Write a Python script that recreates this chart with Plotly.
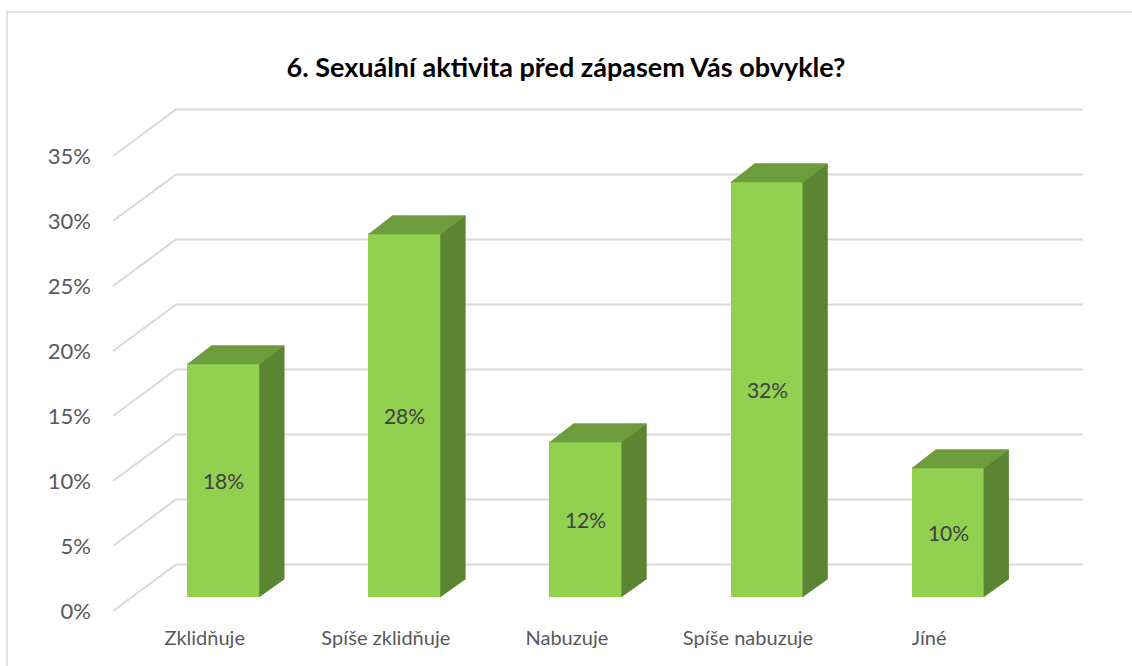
import plotly.graph_objects as go

# chart data
CATEGORIES = ["Zklidňuje", "Spíše zklidňuje", "Nabuzuje", "Spíše nabuzuje", "Jíné"]
VALUES = [18, 28, 12, 32, 10]
Y_TICKS = [0, 5, 10, 15, 20, 25, 30, 35]
TITLE = "6. Sexuální aktivita před zápasem Vás obvykle?"

# geometry (pixel anchors of the 3D look)
W, H = 1132, 666
PX_CAT = 181.1          # pixels per category step
PX_PCT = 13.0           # pixels per percent
X0_PIX = 223.7          # pixel of first bar centre
Y0_PIX = 611.0          # pixel of 0% on the front plane
PLOT_L, PLOT_R, PLOT_T, PLOT_B = 100, 1090, 95, 622

WALL_DX = 63 / PX_CAT   # depth of the floor / side wall
WALL_DY = 46.5 / PX_PCT
WALL_FRONT_X = (113 - X0_PIX) / PX_CAT
WALL_RIGHT_X = (1083 - X0_PIX) / PX_CAT

BAR_W = 73 / PX_CAT
BAR_BASE = 13.7 / PX_PCT
BAR_DX = 24.3 / PX_CAT
BAR_DY = 18 / PX_PCT
SEAM = 1 / PX_CAT       # small overlap so no gap shows between faces

FRONT = "#92D050"
TOP = "#6C9C3B"
SIDE = "#5B8532"
GRID = "#D9D9D9"
FONT = "Lato"

x_range = [(PLOT_L - X0_PIX) / PX_CAT, (PLOT_R - X0_PIX) / PX_CAT]
y_range = [(Y0_PIX - PLOT_B) / PX_PCT, (Y0_PIX - PLOT_T) / PX_PCT]

fig = go.Figure()

# walls: diagonal side wall lines + back wall lines, kept under the bars
for v in Y_TICKS:
    bx = WALL_FRONT_X + WALL_DX
    by = v + WALL_DY
    fig.add_shape(
        type="path", xref="x", yref="y", layer="below",
        path=f"M {WALL_FRONT_X},{v} L {bx},{by} L {WALL_RIGHT_X},{by}",
        line={"color": GRID, "width": 2},
    )

xs = list(range(len(CATEGORIES)))

# side and top faces of each bar
for i, v in zip(xs, VALUES):
    right = i + BAR_W / 2
    left = i - BAR_W / 2
    top = BAR_BASE + v
    seam_y = SEAM * PX_CAT / PX_PCT
    fig.add_trace(go.Scatter(
        x=[right - SEAM, right + BAR_DX, right + BAR_DX, right - SEAM, right - SEAM],
        y=[BAR_BASE, BAR_BASE + BAR_DY, top + BAR_DY, top, BAR_BASE],
        fill="toself", fillcolor=SIDE, mode="lines",
        line={"width": 0, "color": SIDE},
        hoverinfo="skip", showlegend=False,
    ))
    fig.add_trace(go.Scatter(
        x=[left, left + BAR_DX, right + BAR_DX, right, left],
        y=[top - seam_y, top + BAR_DY, top + BAR_DY, top - seam_y, top - seam_y],
        fill="toself", fillcolor=TOP, mode="lines",
        line={"width": 0, "color": TOP},
        hoverinfo="skip", showlegend=False,
    ))

# front faces
fig.add_trace(go.Bar(
    x=xs,
    y=VALUES,
    base=BAR_BASE,
    width=BAR_W,
    marker={"color": FRONT, "line": {"width": 0}},
    text=[f"{v}%" for v in VALUES],
    textposition="inside",
    insidetextanchor="middle",
    textangle=0,
    constraintext="none",
    textfont={"family": FONT, "size": 21, "color": "#404040"},
    hoverinfo="skip",
    showlegend=False,
))


# outer chart border (left + top visible)
def px_to_paper_x(px):
    return (px - PLOT_L) / (PLOT_R - PLOT_L)


def px_to_paper_y(py):
    return (PLOT_B - py) / (PLOT_B - PLOT_T)


fig.add_shape(
    type="rect", xref="paper", yref="paper",
    x0=px_to_paper_x(7), x1=px_to_paper_x(W + 20),
    y0=px_to_paper_y(H + 20), y1=px_to_paper_y(12),
    line={"color": GRID, "width": 1.5}, layer="below",
)

label_shift = 19 / PX_CAT

fig.update_layout(
    width=W,
    height=H,
    autosize=False,
    margin={"l": PLOT_L, "r": W - PLOT_R, "t": PLOT_T, "b": H - PLOT_B},
    paper_bgcolor="white",
    plot_bgcolor="white",
    title={
        "text": f"<b>{TITLE}</b>",
        "x": 0.5, "xanchor": "center",
        "y": 1 - 68 / H, "yanchor": "middle",
        "font": {"family": FONT, "size": 27, "color": "#000000"},
    },
    xaxis={
        "range": x_range,
        "tickvals": [i - label_shift for i in xs],
        "ticktext": CATEGORIES,
        "showgrid": False, "zeroline": False, "showline": False,
        "ticks": "",
        "ticklabelstandoff": 2,
        "tickfont": {"family": FONT, "size": 20, "color": "#595959"},
    },
    yaxis={
        "range": y_range,
        "tickvals": Y_TICKS,
        "ticktext": [f"{v}%" for v in Y_TICKS],
        "showgrid": False, "zeroline": False, "showline": False,
        "ticks": "",
        "ticklabelstandoff": 8,
        "tickfont": {"family": FONT, "size": 22, "color": "#595959"},
    },
    bargap=0,
)

fig.write_html(
    "out.html",
    config={"displayModeBar": False},
    post_script="document.body.style.margin = '0';",
)
